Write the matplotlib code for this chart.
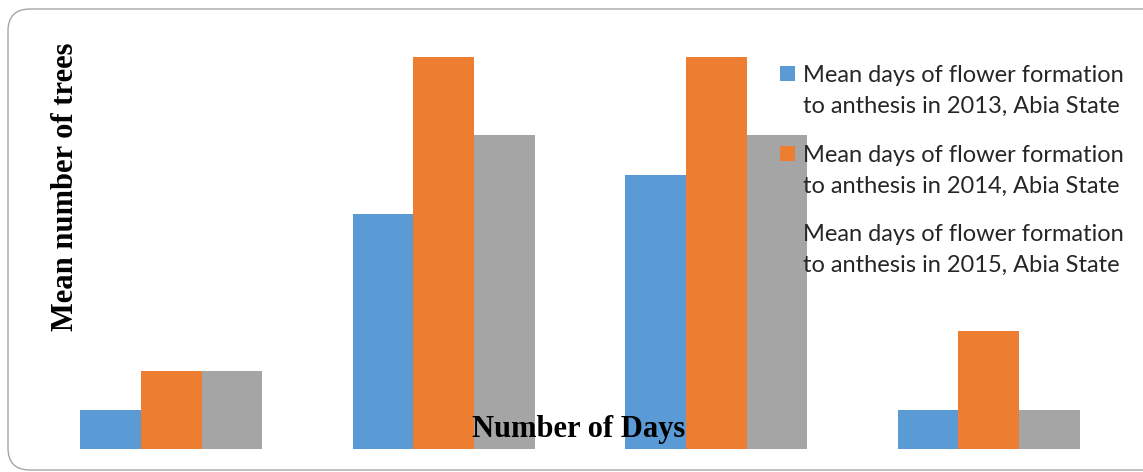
import numpy as np
import matplotlib.pyplot as plt
from matplotlib.patches import FancyBboxPatch, Rectangle
from matplotlib.transforms import IdentityTransform

# mean number of trees per day class, one list per season
groups = ['1', '2', '3', '4']
trees_2013 = [1, 6, 7, 1]
trees_2014 = [2, 10, 10, 3]
trees_2015 = [2, 8, 8, 1]
series_labels = [
    'Mean days of flower formation\nto anthesis in 2013, Abia State',
    'Mean days of flower formation\nto anthesis in 2014, Abia State',
    'Mean days of flower formation\nto anthesis in 2015, Abia State',
]
colors = ['#5B9BD5', '#ED7D31', '#A5A5A5']

W, H = 1143, 472
fig = plt.figure(figsize=(W / 100, H / 100), dpi=100)

# rounded frame around the chart area (pixel coordinates)
frame = FancyBboxPatch((8, H - 470), 1160, 461,
                       boxstyle='round,pad=0,rounding_size=22',
                       transform=IdentityTransform(), fill=False,
                       edgecolor='#a6a6a6', linewidth=1.0)
fig.patches.append(frame)

ax = fig.add_axes([35 / W, 23 / H, 1090 / W, 392 / H])
x = np.arange(len(groups))
bw = 0.2227
for i, vals in enumerate([trees_2013, trees_2014, trees_2015]):
    ax.bar(x + (i - 1) * bw, vals, width=bw, color=colors[i], linewidth=0)

ax.set_xlim(-0.5, 3.5)
ax.set_ylim(0, 10)
ax.axis('off')

# axis titles sit inside the plot, as in the source layout
fig.text(579 / W, (H - 437) / H, 'Number of Days', family='Liberation Serif',
         fontweight='bold', fontsize=22, ha='center', va='baseline')
fig.text(66 / W, (H - 187) / H, 'Mean number of trees', family='Liberation Serif',
         fontweight='bold', fontsize=22, ha='center', va='center', rotation=90)

# legend: square key next to the first line of each two-line entry
for i, lab in enumerate(series_labels):
    y_top = 66 + i * 79.5
    fig.patches.append(Rectangle((780 / W, (H - y_top - 15) / H), 15 / W, 15 / H,
                                 transform=fig.transFigure, facecolor=colors[i],
                                 edgecolor='none', zorder=5))
    fig.text(803 / W, (H - y_top + 1) / H, lab, family='Lato', fontsize=17,
             color='#262626', ha='left', va='top', linespacing=1.6, zorder=5)

fig.savefig('out.png', dpi=100, facecolor='white')
